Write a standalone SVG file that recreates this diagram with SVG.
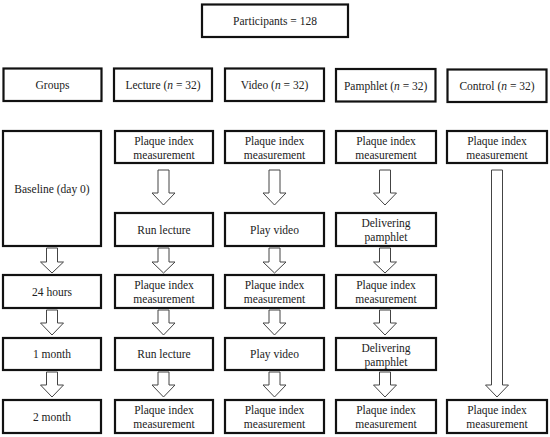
<svg xmlns="http://www.w3.org/2000/svg" width="550" height="437" viewBox="0 0 550 437">
<style>
.b{fill:#fff;stroke:#111;stroke-width:2.2}
.t{font-family:'Liberation Serif','DejaVu Serif',serif;font-size:11.5px;fill:#222;text-anchor:middle}
.a{fill:#fff;stroke:#444;stroke-width:1}
</style>
<rect width="550" height="437" fill="#fff"/>
<g id="participants"><rect class="b" x="202" y="4.5" width="146" height="32.5"/><text class="t" x="275" y="25">Participants = 128</text></g>
<g id="groups"><rect class="b" x="3.5" y="68.5" width="98" height="32.5"/><text class="t" x="52.5" y="89">Groups</text></g>
<g id="lecture"><rect class="b" x="114" y="68.5" width="98" height="32.5"/><text class="t" x="163" y="89">Lecture (<tspan font-style="italic">n</tspan> = 32)</text></g>
<g id="video"><rect class="b" x="225" y="68.5" width="99" height="32.5"/><text class="t" x="274.5" y="89">Video (<tspan font-style="italic">n</tspan> = 32)</text></g>
<g id="pamphlet"><rect class="b" x="336" y="69" width="99.5" height="32.5"/><text class="t" x="385.7" y="89.5">Pamphlet (<tspan font-style="italic">n</tspan> = 32)</text></g>
<g id="control"><rect class="b" x="447.5" y="69.5" width="99" height="32.5"/><text class="t" x="497" y="90">Control (<tspan font-style="italic">n</tspan> = 32)</text></g>

<g id="baseline"><rect class="b" x="3" y="131" width="98" height="115"/><text class="t" x="52" y="193">Baseline (day 0)</text></g>
<g id="h24"><rect class="b" x="3" y="275" width="98" height="33"/><text class="t" x="52" y="295.5">24 hours</text></g>
<g id="m1"><rect class="b" x="3" y="338" width="98" height="32"/><text class="t" x="52" y="358">1 month</text></g>
<g id="m2"><rect class="b" x="3" y="400" width="98" height="33"/><text class="t" x="52" y="420.5">2 month</text></g>

<g id="lec-pi0"><rect class="b" x="115" y="131" width="98" height="32"/><text class="t" x="164" y="145">Plaque index</text><text class="t" x="164" y="158.5">measurement</text></g>
<g id="lec-run1"><rect class="b" x="115" y="213" width="98" height="33"/><text class="t" x="164" y="233.5">Run lecture</text></g>
<g id="lec-pi1"><rect class="b" x="115" y="275" width="98" height="33"/><text class="t" x="164" y="289">Plaque index</text><text class="t" x="164" y="302.5">measurement</text></g>
<g id="lec-run2"><rect class="b" x="115" y="338" width="98" height="32"/><text class="t" x="164" y="358">Run lecture</text></g>
<g id="lec-pi2"><rect class="b" x="115" y="400" width="98" height="33"/><text class="t" x="164" y="414">Plaque index</text><text class="t" x="164" y="427.5">measurement</text></g>

<g id="vid-pi0"><rect class="b" x="225" y="131" width="99" height="32"/><text class="t" x="274.5" y="145">Plaque index</text><text class="t" x="274.5" y="158.5">measurement</text></g>
<g id="vid-play1"><rect class="b" x="225" y="213" width="99" height="33"/><text class="t" x="274.5" y="233.5">Play video</text></g>
<g id="vid-pi1"><rect class="b" x="225" y="275" width="99" height="33"/><text class="t" x="274.5" y="289">Plaque index</text><text class="t" x="274.5" y="302.5">measurement</text></g>
<g id="vid-play2"><rect class="b" x="225" y="338" width="99" height="32"/><text class="t" x="274.5" y="358">Play video</text></g>
<g id="vid-pi2"><rect class="b" x="225" y="400" width="99" height="33"/><text class="t" x="274.5" y="414">Plaque index</text><text class="t" x="274.5" y="427.5">measurement</text></g>

<g id="pam-pi0"><rect class="b" x="336" y="131" width="100" height="32"/><text class="t" x="386" y="145">Plaque index</text><text class="t" x="386" y="158.5">measurement</text></g>
<g id="pam-del1"><rect class="b" x="336" y="213" width="100" height="33"/><text class="t" x="386" y="227">Delivering</text><text class="t" x="386" y="240.5">pamphlet</text></g>
<g id="pam-pi1"><rect class="b" x="336" y="275" width="100" height="33"/><text class="t" x="386" y="289">Plaque index</text><text class="t" x="386" y="302.5">measurement</text></g>
<g id="pam-del2"><rect class="b" x="336" y="338" width="100" height="32"/><text class="t" x="386" y="352">Delivering</text><text class="t" x="386" y="365.5">pamphlet</text></g>
<g id="pam-pi2"><rect class="b" x="336" y="400" width="100" height="33"/><text class="t" x="386" y="414">Plaque index</text><text class="t" x="386" y="427.5">measurement</text></g>

<g id="con-pi0"><rect class="b" x="447" y="131" width="100" height="32"/><text class="t" x="497" y="145">Plaque index</text><text class="t" x="497" y="158.5">measurement</text></g>
<g id="con-pi2"><rect class="b" x="447" y="400" width="100" height="33"/><text class="t" x="497" y="414">Plaque index</text><text class="t" x="497" y="427.5">measurement</text></g>

<g id="connectors">
<polygon class="a" points="158,170 169,170 169,193 175,193 163.5,205 152,193 158,193"/>
<polygon class="a" points="269,170 280,170 280,193 286,193 274.5,205 263,193 269,193"/>
<polygon class="a" points="379.5,170 390.5,170 390.5,193 396.5,193 385,205 373.5,193 379.5,193"/>
<polygon class="a" points="491.5,170 502.5,170 502.5,385 508.5,385 497,397 485.5,385 491.5,385"/>

<polygon class="a" points="46.5,248 57.5,248 57.5,262 63.5,262 52,273 40.5,262 46.5,262"/>
<polygon class="a" points="158,248 169,248 169,262 175,262 163.5,273 152,262 158,262"/>
<polygon class="a" points="269,248 280,248 280,262 286,262 274.5,273 263,262 269,262"/>
<polygon class="a" points="379.5,248 390.5,248 390.5,262 396.5,262 385,273 373.5,262 379.5,262"/>

<polygon class="a" points="46.5,310 57.5,310 57.5,323 63.5,323 52,335 40.5,323 46.5,323"/>
<polygon class="a" points="158,310 169,310 169,323 175,323 163.5,335 152,323 158,323"/>
<polygon class="a" points="269,310 280,310 280,323 286,323 274.5,335 263,323 269,323"/>
<polygon class="a" points="379.5,310 390.5,310 390.5,323 396.5,323 385,335 373.5,323 379.5,323"/>

<polygon class="a" points="46.5,372 57.5,372 57.5,385 63.5,385 52,397 40.5,385 46.5,385"/>
<polygon class="a" points="158,372 169,372 169,385 175,385 163.5,397 152,385 158,385"/>
<polygon class="a" points="269,372 280,372 280,385 286,385 274.5,397 263,385 269,385"/>
<polygon class="a" points="379.5,372 390.5,372 390.5,385 396.5,385 385,397 373.5,385 379.5,385"/>
</g>
</svg>
